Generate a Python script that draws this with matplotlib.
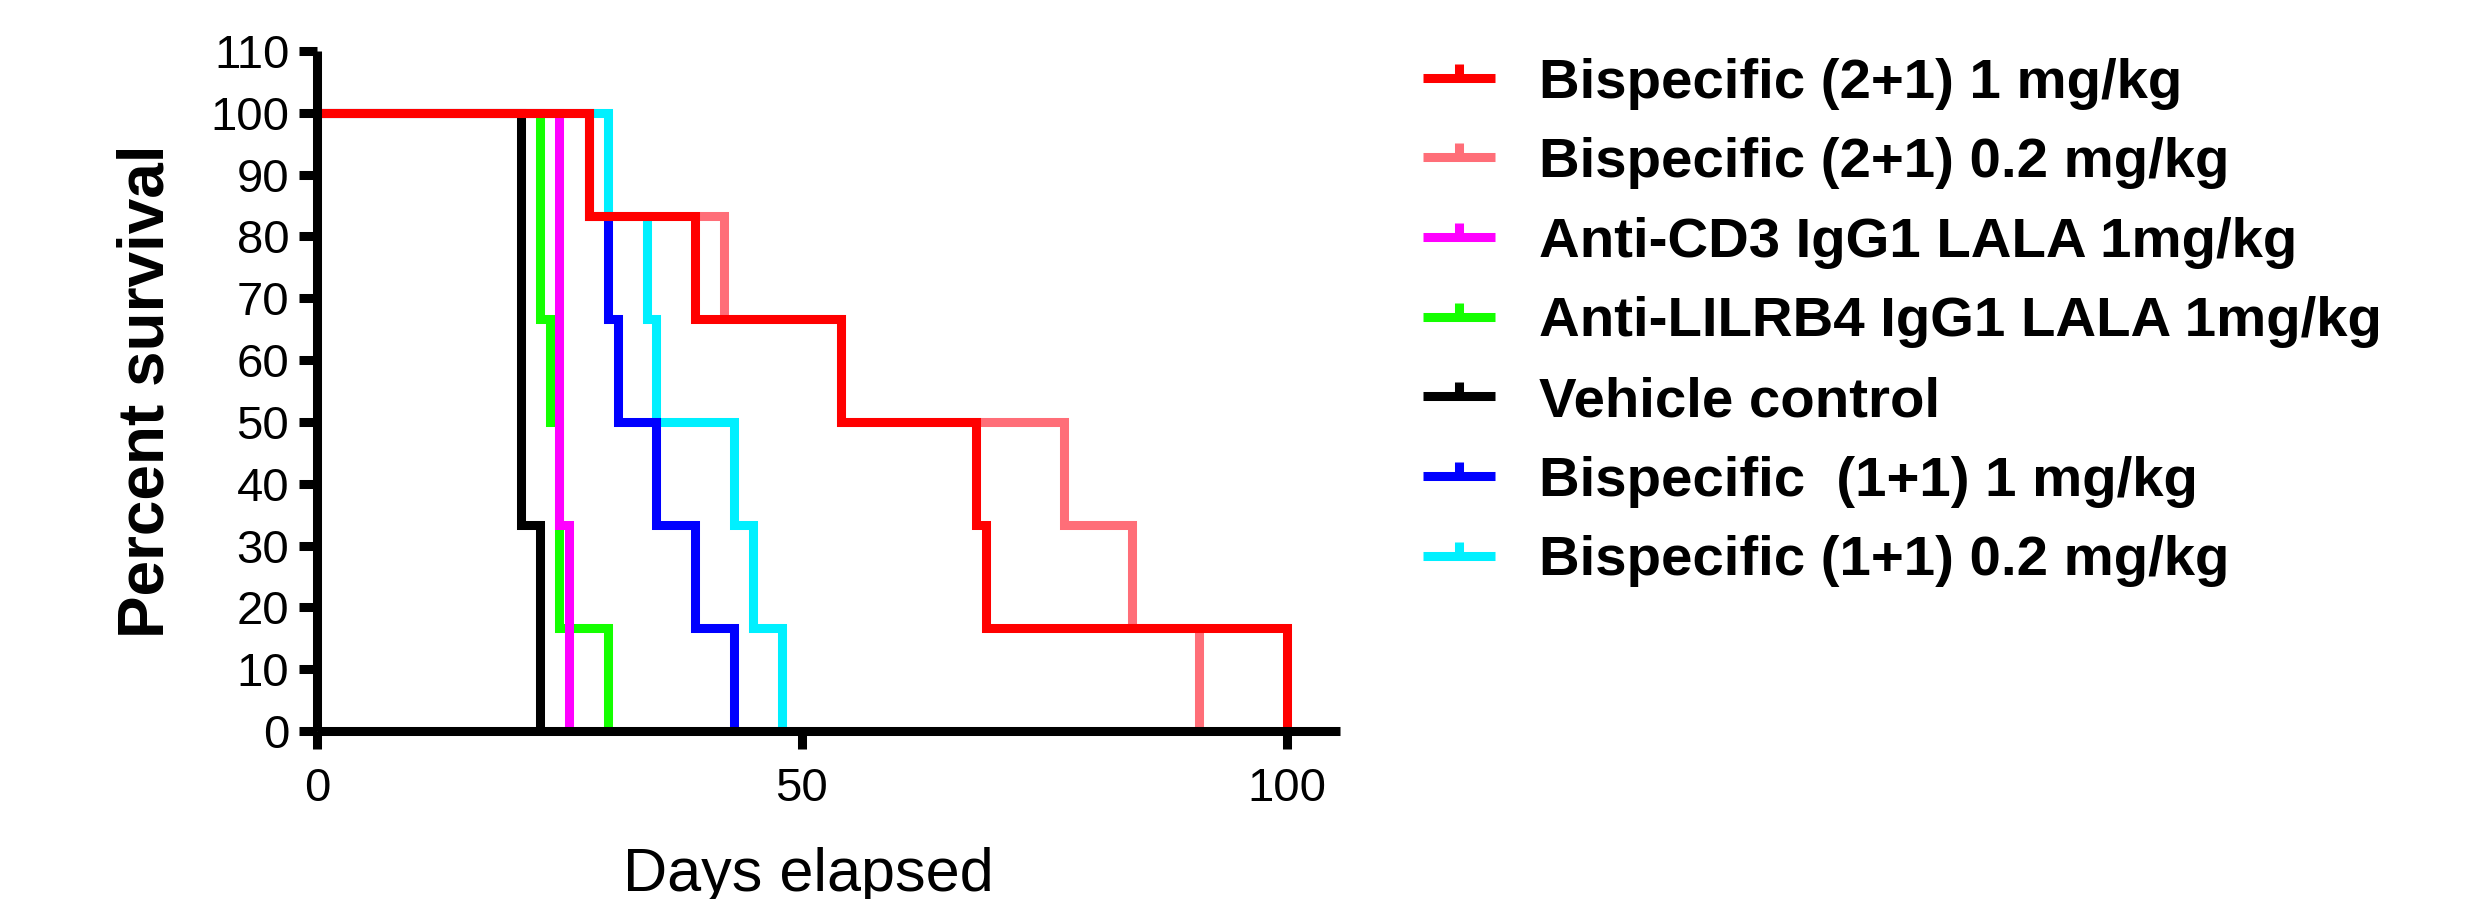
import matplotlib
matplotlib.use('Agg')
import matplotlib.pyplot as plt
from matplotlib.lines import Line2D
from matplotlib.path import Path

plt.rcParams['font.family'] = ['Liberation Sans', 'DejaVu Sans']

# donnees (jours, % survie)
labels = ['Bispecific (2+1) 1 mg/kg',
          'Bispecific (2+1) 0.2 mg/kg',
          'Anti-CD3 IgG1 LALA 1mg/kg',
          'Anti-LILRB4 IgG1 LALA 1mg/kg',
          'Vehicle control',
          'Bispecific  (1+1) 1 mg/kg',
          'Bispecific (1+1) 0.2 mg/kg']
colors = ['#FF0000', '#FF6E78', '#FF00FF', '#14FF00', '#000000', '#0000FF', '#00F0FF']

bisp21_1_days = [0, 28, 39, 54, 68, 69, 100]
bisp21_1_surv = [100, 83.33, 66.67, 50, 33.33, 16.67, 0]
bisp21_02_days = [0, 28, 42, 54, 77, 84, 91]
bisp21_02_surv = [100, 83.33, 66.67, 50, 33.33, 16.67, 0]
cd3_days = [0, 25, 26]
cd3_surv = [100, 33.33, 0]
lilrb4_days = [0, 23, 24, 25, 30]
lilrb4_surv = [100, 66.67, 50, 16.67, 0]
vehicle_days = [0, 21, 23]
vehicle_surv = [100, 33.33, 0]
bisp11_1_days = [0, 28, 30, 31, 35, 39, 43]
bisp11_1_surv = [100, 83.33, 66.67, 50, 33.33, 16.67, 0]
bisp11_02_days = [0, 30, 34, 35, 43, 45, 48]
bisp11_02_surv = [100, 83.33, 66.67, 50, 33.33, 16.67, 0]

series = [(bisp21_1_days, bisp21_1_surv), (bisp21_02_days, bisp21_02_surv),
          (cd3_days, cd3_surv), (lilrb4_days, lilrb4_surv),
          (vehicle_days, vehicle_surv), (bisp11_1_days, bisp11_1_surv),
          (bisp11_02_days, bisp11_02_surv)]

x_ticks = [0, 50, 100]
y_ticks = list(range(0, 111, 10))

fig = plt.figure(figsize=(24.75, 8.99), dpi=100)
ax = fig.add_axes([0.1281, 0.1869, 0.4133, 0.7564])

lw = 6.5
# on trace a l'envers pour que le premier groupe soit au-dessus
n = len(series)
for i in range(n - 1, -1, -1):
    d, s = series[i]
    ax.step(d, s, where='post', color=colors[i], lw=lw,
            solid_joinstyle='miter', solid_capstyle='butt', zorder=2 + (n - i) * 0.01)

ax.set_xlim(0, 105.5)
ax.set_ylim(0, 110)
ax.set_xticks(x_ticks)
ax.set_yticks(y_ticks)
for side in ['top', 'right']:
    ax.spines[side].set_visible(False)
for side in ['left', 'bottom']:
    ax.spines[side].set_linewidth(6.5)
    ax.spines[side].set_capstyle('butt')
ax.tick_params(axis='both', direction='out', length=13, width=6.5, labelsize=34)
ax.tick_params(axis='y', pad=7)
ax.tick_params(axis='x', pad=13)

ax.set_xlabel('Days elapsed', fontsize=44)
ax.xaxis.set_label_coords(0.48, -0.17)
ax.set_ylabel('Percent survival', fontsize=46, fontweight='bold')
ax.yaxis.set_label_coords(-0.137, 0.5)

# legende avec le petit trait vertical (style prism)
tick_mark = Path([(0, 0), (0, 1)], [Path.MOVETO, Path.LINETO])
handles = []
for i in range(n):
    handles.append(Line2D([], [], color=colors[i], lw=lw, solid_capstyle='butt',
                          marker=tick_mark, markersize=20, markeredgewidth=6.5,
                          markeredgecolor=colors[i]))
leg = fig.legend(handles, labels, loc='upper left', bbox_to_anchor=(0.575, 0.936),
                 frameon=False, fontsize=40.6, handlelength=1.28, handletextpad=0.78,
                 labelspacing=0.49, borderpad=0, borderaxespad=0, numpoints=1)
for t in leg.get_texts():
    t.set_fontweight('bold')

fig.savefig('out.png', dpi=100)
